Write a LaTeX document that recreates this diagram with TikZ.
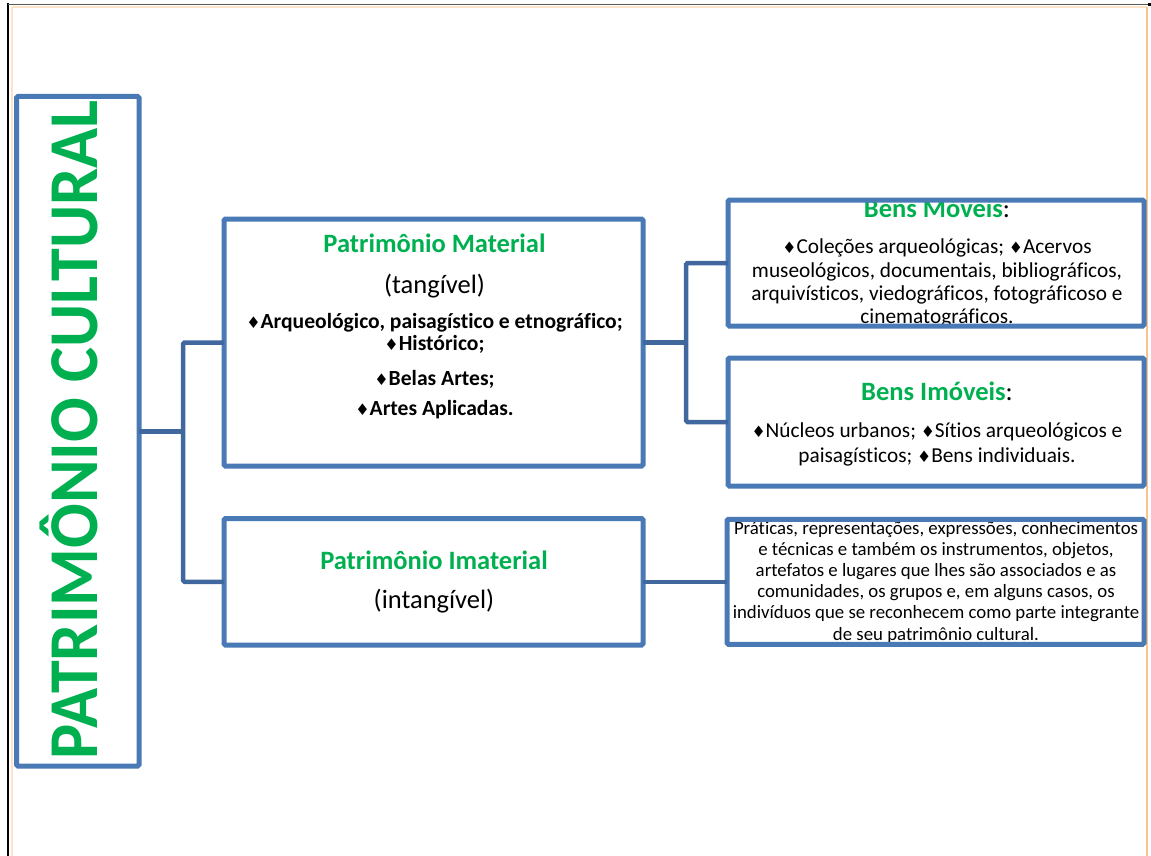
\documentclass[tikz,border=0pt]{standalone}
\usepackage{fontspec}
\setmainfont{Carlito}[Ligatures=NoCommon]
\newfontfamily\djv{DejaVu Sans}
\definecolor{boxblue}{RGB}{74,122,181}
\definecolor{linkblue}{RGB}{64,103,158}
\definecolor{pgreen}{RGB}{0,176,80}
\definecolor{peach}{RGB}{253,228,200}
\definecolor{orangeline}{RGB}{250,195,140}
\definecolor{topgray}{RGB}{90,90,80}
\newcommand{\dm}{\scalebox{0.74}{\djv ♦}}
\tikzset{
 boxs/.style={draw=boxblue, line width=5pt, rounded corners=1.5pt, inner sep=0pt, outer sep=0pt},
 link/.style={draw=linkblue, line width=4.5pt, rounded corners=1.5pt},
 ttlg/.style={anchor=base, inner sep=0pt, text=pgreen, font=\fontsize{26.5}{30}\selectfont\bfseries},
 ttl/.style={anchor=base, inner sep=0pt, font=\fontsize{26.5}{30}\selectfont},
 bl/.style={anchor=base, inner sep=0pt, font=\fontsize{21.6}{24}\selectfont\bfseries},
 tx/.style={anchor=base, inner sep=0pt, font=\fontsize{21.3}{24}\selectfont},
 sm/.style={anchor=base, inner sep=0pt, font=\fontsize{18.8}{21}\selectfont},
}
\begin{document}
\begin{tikzpicture}[x=1pt,y=-1pt]
\useasboundingbox (0,0) rectangle (1151,856);
% page frame
\draw[line width=1.2pt, peach] (12,7) -- (12,856);
\draw[line width=1.2pt, peach] (12,7) -- (1147,7);
\draw[line width=1.5pt, orangeline] (1147,7) -- (1147,856);
\draw[line width=2.5pt, black] (8,3.5) -- (8,856);
\draw[line width=1.5pt, topgray] (8,4.5) -- (1150,4.5);
\fill[black] (1147.5,3) rectangle (1151,6.5);

% texts
\node[anchor=base, rotate=90, inner sep=0pt, text=pgreen, font=\fontsize{70}{72}\selectfont\bfseries] (pct) at (97,430) {\scalebox{0.945}[1]{PATRIMÔNIO CULTURAL}};

\node[ttlg] (matT) at (434.5,252) {Patrimônio Material};
\node[ttl] (matS) at (434.5,293) {(tangível)};
\node[bl] (matL1) at (434.5,328) {\dm Arqueológico, paisagístico e etnográfico;};
\node[bl] (matL2) at (434.5,350) {\dm Histórico;};
\node[bl] (matL3) at (434.5,385) {\dm Belas Artes;};
\node[bl] (matL4) at (434.5,415) {\dm Artes Aplicadas.};

\node[ttlg] (imatT) at (434,569) {Patrimônio Imaterial};
\node[ttl] (imatS) at (434,608) {(intangível)};

\node[ttl] (movT) at (937,217) {{\bfseries\color{pgreen}Bens Móveis}:};
\node[tx] (movL1) at (937,253) {\dm Coleções arqueológicas; \dm Acervos};
\node[tx] (movL2) at (937,277) {museológicos, documentais, bibliográficos,};
\node[tx] (movL3) at (937,300) {arquivísticos, viedográficos, fotográficoso e};
\node[tx] (movL4) at (937,323) {cinematográficos.};

\node[ttl] (imovT) at (937,400) {{\bfseries\color{pgreen}Bens Imóveis}:};
\node[tx] (imovL1) at (937,437) {\dm Núcleos urbanos; \dm Sítios arqueológicos e};
\node[tx] (imovL2) at (937,462) {paisagísticos; \dm Bens individuais.};

\node[sm] (pr1) at (936,534) {Práticas, representações, expressões, conhecimentos};
\node[sm] (pr2) at (936,555.2) {e técnicas e também os instrumentos, objetos,};
\node[sm] (pr3) at (936,576.4) {artefatos e lugares que lhes são associados e as};
\node[sm] (pr4) at (936,597.6) {comunidades, os grupos e, em alguns casos, os};
\node[sm] (pr5) at (936,618.8) {indivíduos que se reconhecem como parte integrante};
\node[sm] (pr6) at (936,640) {de seu patrimônio cultural.};

% boxes
\node[boxs, minimum width=122.5pt, minimum height=669.5pt] (pc) at (77.75,431.25) {};
\node[boxs, minimum width=419pt, minimum height=247pt] (mat) at (433.5,342.5) {};
\node[boxs, minimum width=419pt, minimum height=126.5pt] (imat) at (433.5,581.75) {};
\node[boxs, minimum width=416pt, minimum height=126pt] (mov) at (936,263) {};
\node[boxs, minimum width=416pt, minimum height=128pt] (imov) at (936,422) {};
\node[boxs, minimum width=417pt, minimum height=125pt] (prat) at (935.5,581.75) {};

% connectors
\coordinate (j1) at (183,431);
\coordinate (j2) at (686,342.5);
\draw[link] (pc.east) -- (pc.east -| j1);
\draw[link] (mat.west) -- (mat.west -| j1) -- (imat.west -| j1) -- (imat.west);
\draw[link] (mat.east) -- (mat.east -| j2);
\draw[link] (mov.west) -- (mov.west -| j2) -- (imov.west -| j2) -- (imov.west);
\draw[link] (imat.east) -- (prat.west);
\end{tikzpicture}
\end{document}
